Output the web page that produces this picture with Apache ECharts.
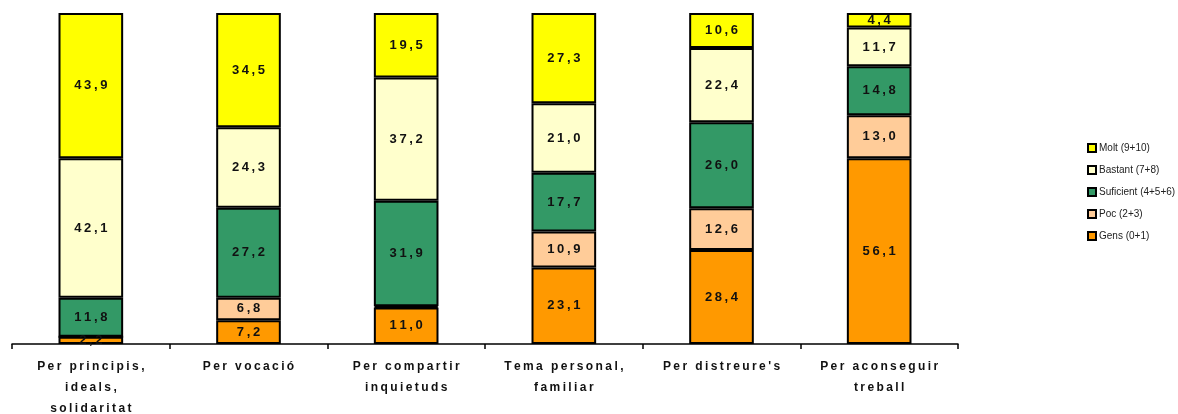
<!DOCTYPE html>
<html>
<head>
<meta charset="utf-8">
<script src="https://cdn.jsdelivr.net/npm/echarts@6/dist/echarts.min.js"></script>
<style>
  html, body { margin: 0; padding: 0; background: #fff; }
  #chart { width: 1178px; height: 414px; }
</style>
</head>
<body>
<div id="chart"></div>
<script>
// categories (x axis)
const categories = [
  'Per principis,\nideals,\nsolidaritat',
  'Per vocació',
  'Per compartir\ninquietuds',
  'Tema personal,\nfamiliar',
  "Per distreure's",
  'Per aconseguir\ntreball'
];

// percentages per group, bottom to top
const gens      = [2.2, 7.2, 11.0, 23.1, 28.4, 56.1];
const poc       = [0.0, 6.8, 0.4, 10.9, 12.6, 13.0];
const suficient = [11.8, 27.2, 31.9, 17.7, 26.0, 14.8];
const bastant   = [42.1, 24.3, 37.2, 21.0, 22.4, 11.7];
const molt      = [43.9, 34.5, 19.5, 27.3, 10.6, 4.4];

const seriesNames = ['Gens (0+1)', 'Poc (2+3)', 'Suficient (4+5+6)', 'Bastant (7+8)', 'Molt (9+10)'];
const seriesData = [gens, poc, suficient, bastant, molt];
const colors = ['#FF9900', '#FFCC99', '#339966', '#FFFFCC', '#FFFF00'];

// spread letters a bit, like the original export
const spaced = s => s.split('\n').map(l => l.split('').join('\u2009')).join('\n');

const myChart = echarts.init(document.getElementById('chart'));

myChart.setOption({
  animation: false,
  grid: { left: 12, right: 220, top: 13, bottom: 70, outerBoundsMode: 'none' },
  legend: {
    orient: 'vertical',
    left: 1082,
    top: 138,
    icon: 'rect',
    itemWidth: 8,
    itemHeight: 8,
    itemGap: 12,
    data: seriesNames.slice().reverse(),
    textStyle: { fontFamily: 'Liberation Sans, Arial', fontSize: 10, color: '#222', padding: [0, 0, 0, -2] },
    itemStyle: { borderColor: '#000', borderWidth: 2 }
  },
  xAxis: {
    type: 'category',
    data: categories,
    axisLine: { lineStyle: { color: '#000', width: 1.5 } },
    axisTick: { show: true, length: 5, lineStyle: { color: '#000', width: 1.5 } },
    axisLabel: {
      color: '#111',
      fontFamily: 'Liberation Sans, Arial',
      fontWeight: 'bold',
      fontSize: 12,
      lineHeight: 21,
      margin: 12,
      interval: 0,
      formatter: v => spaced(v)
    }
  },
  yAxis: {
    type: 'value',
    min: 0,
    max: 100,
    show: false
  },
  series: seriesData.map((d, i) => ({
    name: seriesNames[i],
    type: 'bar',
    stack: 'total',
    data: d,
    barWidth: '41%',
    itemStyle: { color: colors[i], borderColor: '#000', borderWidth: 2 },
    label: {
      show: true,
      position: 'inside',
      color: '#111',
      fontFamily: 'Liberation Sans, Arial',
      fontWeight: 'bold',
      fontSize: 13,
      formatter: p => p.value < 1 ? '' : spaced(p.value.toFixed(1).replace('.', ','))
    }
  }))
});
</script>
</body>
</html>
